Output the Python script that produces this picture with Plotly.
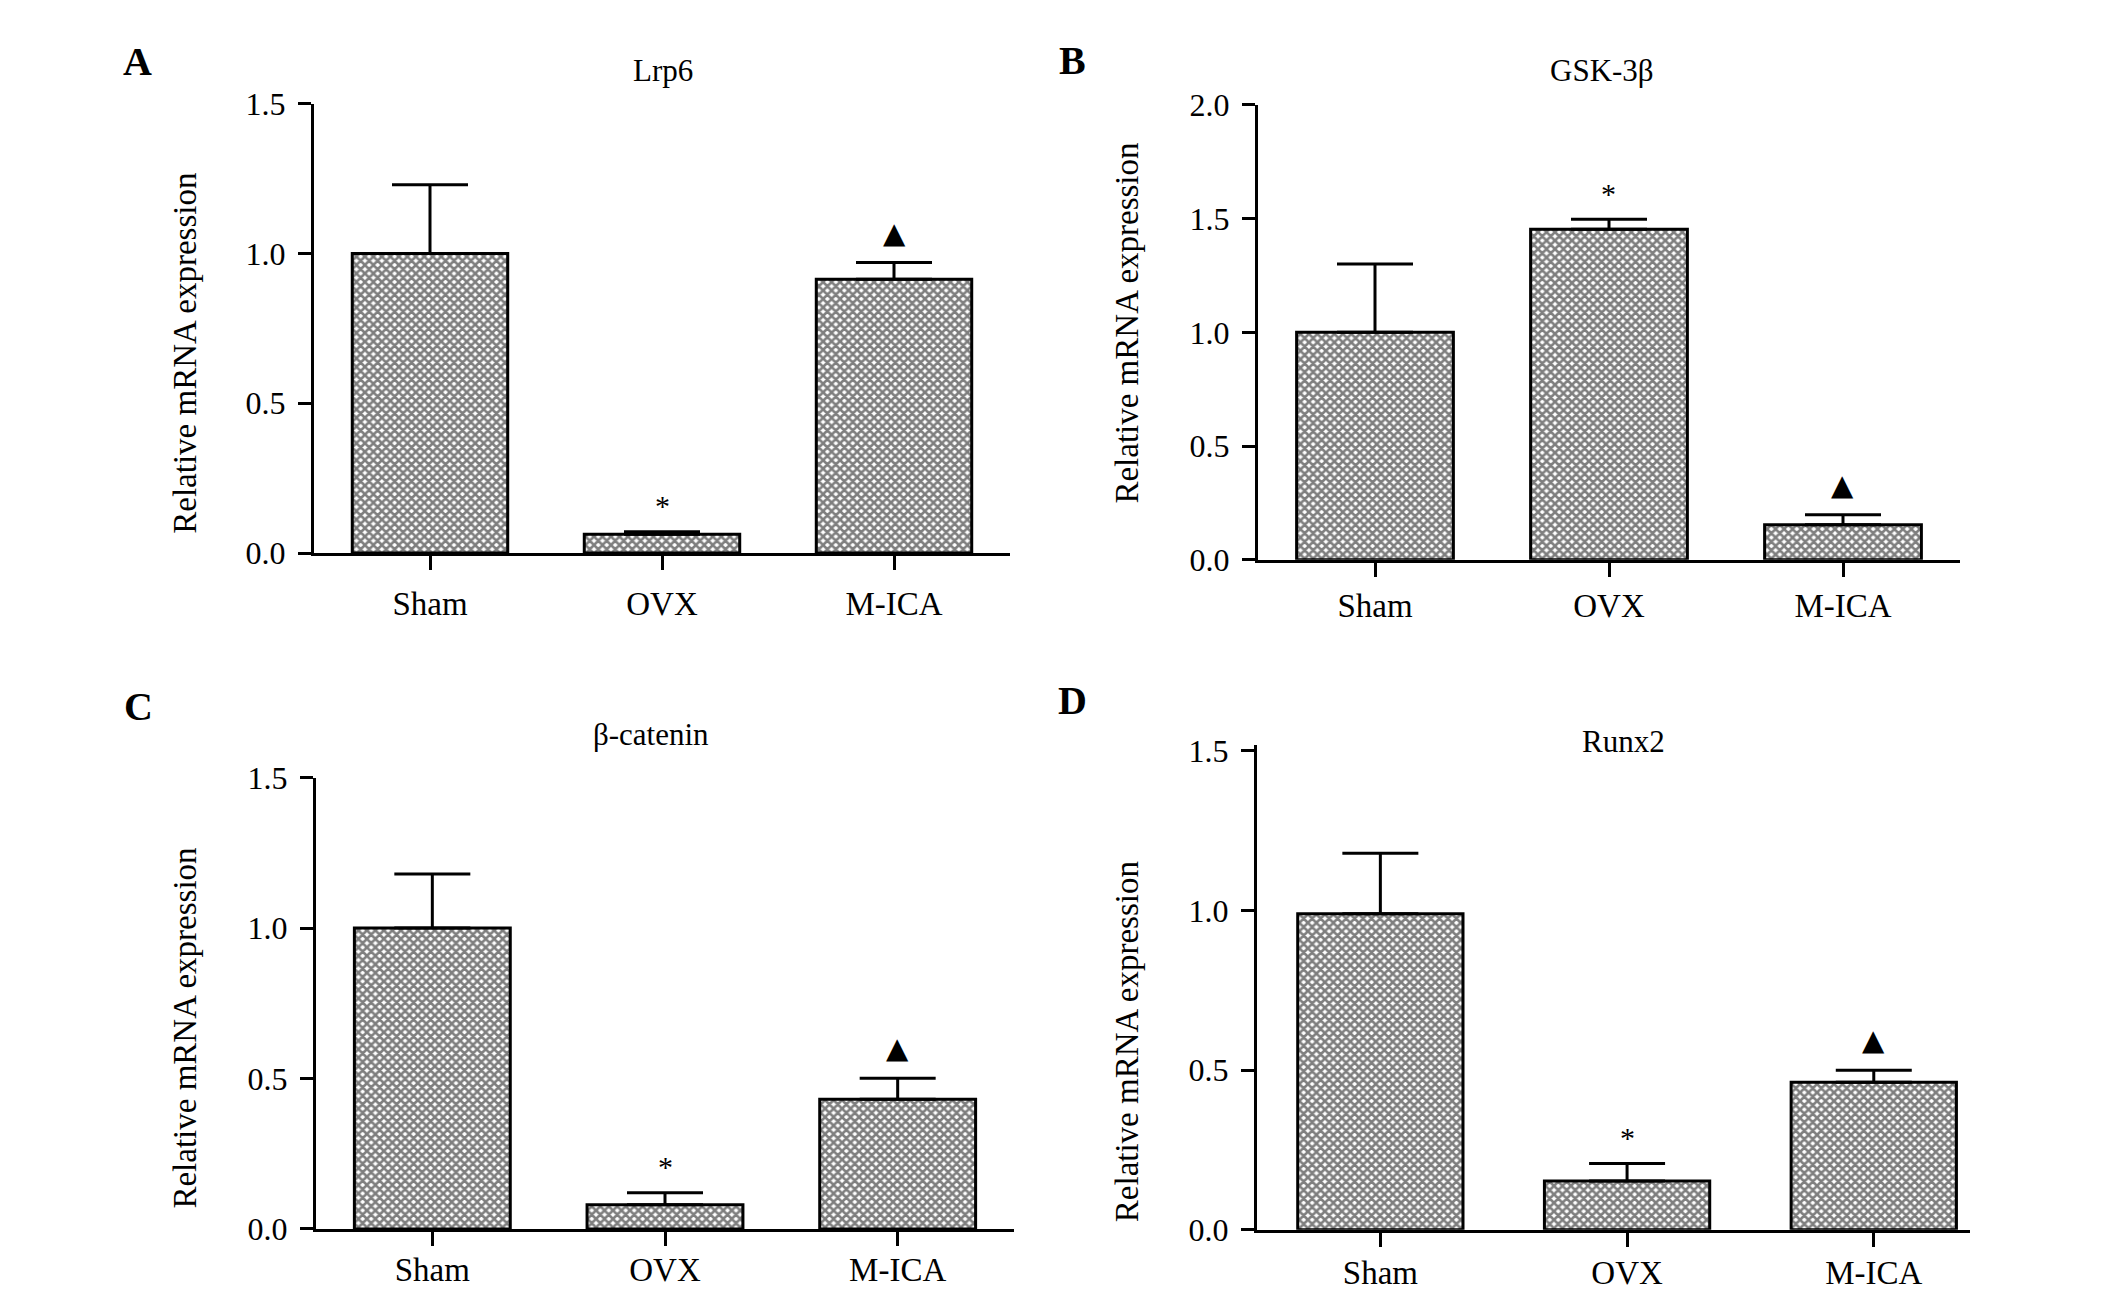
import plotly.graph_objects as go

# page is 2126x1313; body has an 8px margin, so the figure is shifted by 8px
PAGE_W, PAGE_H = 2126, 1313
OFF = 8
W, H = PAGE_W - OFF, PAGE_H - OFF

categories = ["Sham", "OVX", "M-ICA"]

lrp6_mean = [1.00, 0.063, 0.914]
lrp6_err = [0.23, 0.008, 0.056]

gsk_mean = [1.00, 1.453, 0.154]
gsk_err = [0.30, 0.044, 0.044]

bcat_mean = [1.00, 0.08, 0.431]
bcat_err = [0.18, 0.04, 0.07]

runx_mean = [0.99, 0.153, 0.462]
runx_err = [0.19, 0.055, 0.038]

sig_marks = ["", "*", "▲"]

panels = [
    dict(letter="A", title="Lrp6", mean=lrp6_mean, err=lrp6_err, yrange=[0, 1.5], xrange=[-0.5, 2.5],
         xdom=[314, 1010], ydom=[88, 550], letter_xy=(137, 45), title_xy=(663, 54), ytitle_xy=(185, 345),
         xstand=5),
    dict(letter="B", title="GSK-3β", mean=gsk_mean, err=gsk_err, yrange=[0, 2.0], xrange=[-0.5, 2.5],
         xdom=[1258, 1960], ydom=[89, 557], letter_xy=(1072, 43), title_xy=(1602, 54), ytitle_xy=(1127, 313),
         xstand=1),
    dict(letter="C", title="β-catenin", mean=bcat_mean, err=bcat_err, yrange=[0, 1.5], xrange=[-0.5, 2.5],
         xdom=[316, 1014], ydom=[781, 1245], letter_xy=(138, 708), title_xy=(651, 737), ytitle_xy=(185, 1039),
         xstand=-4),
    dict(letter="D", title="Runx2", mean=runx_mean, err=runx_err, yrange=[0, 1.52], xrange=[-0.5, 2.39],
         xdom=[1257, 1970], ydom=[747, 1246], letter_xy=(1072, 702), title_xy=(1623, 744), ytitle_xy=(1127, 1052),
         xstand=-2),
]

FONT = "Liberation Serif"

def px(x):
    return (x - OFF) / W

def py(y):
    return 1 - (y - OFF) / H

fig = go.Figure()
annotations = []
layout = {}

for i, p in enumerate(panels):
    n = "" if i == 0 else str(i + 1)
    xa, ya = "x" + n, "y" + n
    fig.add_trace(go.Bar(
        x=categories, y=p["mean"], xaxis=xa, yaxis=ya, width=0.67,
        marker=dict(color="white", line=dict(color="black", width=3),
                    pattern=dict(shape="x", size=6, solidity=0.68, fgcolor="black", bgcolor="white")),
        error_y=dict(type="data", array=p["err"], arrayminus=[0, 0, 0], symmetric=False,
                     color="black", thickness=3, width=38),
        showlegend=False,
    ))
    layout["xaxis" + n] = dict(
        domain=[px(p["xdom"][0]), px(p["xdom"][1])], anchor=ya, range=p["xrange"],
        showline=True, linecolor="black", linewidth=3, ticks="outside", ticklen=14, tickwidth=3,
        tickcolor="black", showgrid=False, zeroline=False, ticklabelstandoff=p["xstand"],
        tickfont=dict(family=FONT, size=33, color="black"), fixedrange=True,
    )
    layout["yaxis" + n] = dict(
        domain=[py(p["ydom"][1]), py(p["ydom"][0])], anchor=xa, range=p["yrange"],
        tickmode="linear", tick0=0, dtick=0.5, tickformat=".1f",
        showline=True, linecolor="black", linewidth=3, ticks="outside", ticklen=13, tickwidth=3,
        tickcolor="black", showgrid=False, zeroline=False, ticklabelstandoff=6,
        tickfont=dict(family=FONT, size=32, color="black"), fixedrange=True,
    )
    annotations.append(dict(text="<b>" + p["letter"] + "</b>", x=px(p["letter_xy"][0]), y=py(p["letter_xy"][1]),
                            xref="paper", yref="paper", showarrow=False, xanchor="center", yanchor="middle",
                            font=dict(family=FONT, size=40, color="black")))
    annotations.append(dict(text=p["title"], x=px(p["title_xy"][0]), y=py(p["title_xy"][1]),
                            xref="paper", yref="paper", showarrow=False, xanchor="center", yanchor="middle",
                            font=dict(family=FONT, size=31, color="black")))
    annotations.append(dict(text="Relative mRNA expression", x=px(p["ytitle_xy"][0]), y=py(p["ytitle_xy"][1]),
                            xref="paper", yref="paper", showarrow=False, textangle=-90,
                            xanchor="center", yanchor="middle",
                            font=dict(family=FONT, size=33, color="black")))
    for c, m, e, s in zip(categories, p["mean"], p["err"], sig_marks):
        if not s:
            continue
        is_star = s == "*"
        annotations.append(dict(text=s, x=c, y=m + e, xref=xa, yref=ya, showarrow=False,
                                xanchor="center", yanchor="middle", yshift=26 if is_star else 30,
                                font=dict(family=FONT if is_star else "DejaVu Sans",
                                          size=30 if is_star else 29, color="black")))

fig.update_layout(
    width=W, height=H, margin=dict(l=0, r=0, t=0, b=0),
    paper_bgcolor="white", plot_bgcolor="white",
    annotations=annotations, **layout,
)

fig.write_html("out.html", config={"displayModeBar": False})
